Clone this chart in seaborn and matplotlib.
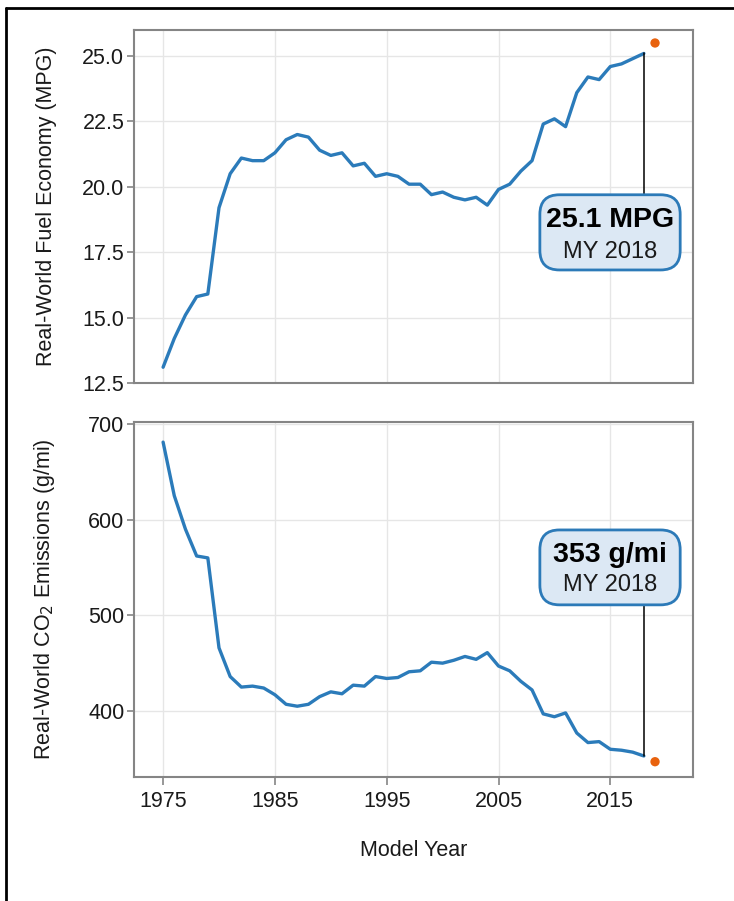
import numpy as np
import pandas as pd
import matplotlib
matplotlib.use("Agg")
import matplotlib.pyplot as plt
import seaborn as sns
from matplotlib.patches import FancyBboxPatch
from matplotlib.lines import Line2D

# --- data -------------------------------------------------------------
years = list(range(1975, 2019))
mpg = [13.1, 14.2, 15.1, 15.8, 15.9, 19.2, 20.5, 21.1, 21.0, 21.0,
       21.3, 21.8, 22.0, 21.9, 21.4, 21.2, 21.3, 20.8, 20.9, 20.4,
       20.5, 20.4, 20.1, 20.1, 19.7, 19.8, 19.6, 19.5, 19.6, 19.3,
       19.9, 20.1, 20.6, 21.0, 22.4, 22.6, 22.3, 23.6, 24.2, 24.1,
       24.6, 24.7, 24.9, 25.1]
co2 = [681, 625, 590, 562, 560, 466, 436, 425, 426, 424,
       417, 407, 405, 407, 415, 420, 418, 427, 426, 436,
       434, 435, 441, 442, 451, 450, 453, 457, 454, 461,
       447, 442, 431, 422, 397, 394, 398, 377, 367, 368,
       360, 359, 357, 353]
prelim_year = [2019]
prelim_mpg = [25.5]
prelim_co2 = [347]

df = pd.DataFrame({"year": years, "mpg": mpg, "co2": co2})
df_pre = pd.DataFrame({"year": prelim_year, "mpg": prelim_mpg, "co2": prelim_co2})

line_col = "#2b7bba"
dot_col = "#e8620e"
spine_col = "#858585"

sns.set_theme(style="whitegrid")
plt.rcParams["font.family"] = ["Liberation Sans", "DejaVu Sans"]
plt.rcParams["grid.color"] = "#e6e6e6"
plt.rcParams["grid.linewidth"] = 1.0

fig = plt.figure(figsize=(7.34, 9.01), dpi=100)
ax1 = fig.add_axes([0.1826, 0.575, 0.7616, 0.3918])
ax2 = fig.add_axes([0.1826, 0.1376, 0.7616, 0.394])

# figure frame (left and top edges only visible in the crop)
fig.add_artist(Line2D([6 / 734, 6 / 734], [0, 1 - 8 / 901], transform=fig.transFigure,
                      color="black", lw=2))
fig.add_artist(Line2D([6 / 734, 1], [1 - 8 / 901, 1 - 8 / 901], transform=fig.transFigure,
                      color="black", lw=2))

for ax, col in [(ax1, "mpg"), (ax2, "co2")]:
    sns.lineplot(data=df, x="year", y=col, ax=ax, color=line_col, lw=2.4)
    sns.scatterplot(data=df_pre, x="year", y=col, ax=ax, color=dot_col,
                    s=45, edgecolor="none", zorder=5)
    ax.set_xlim(1972.4, 2022.4)
    ax.set_xticks([1975, 1985, 1995, 2005, 2015])
    for s in ax.spines.values():
        s.set_color(spine_col)
        s.set_linewidth(1.5)
        s.set_visible(True)
    ax.tick_params(axis="y", left=True, length=5, width=1.2, color=spine_col,
                   labelsize=15.5, labelcolor="#1a1a1a", pad=2)
    ax.tick_params(axis="x", bottom=True, length=6, width=1.2, color=spine_col,
                   labelsize=15.5, labelcolor="#1a1a1a", pad=4)
    ax.set_xlabel("")

# top panel
ax1.set_ylim(12.5, 26.0)
ax1.set_yticks([12.5, 15.0, 17.5, 20.0, 22.5, 25.0])
ax1.set_yticklabels(["12.5", "15.0", "17.5", "20.0", "22.5", "25.0"])
ax1.tick_params(axis="x", bottom=False, labelbottom=False)
ax1.set_ylabel("Real-World Fuel Economy (MPG)", fontsize=15.5, color="#1a1a1a")
ax1.yaxis.set_label_coords(-0.137, 0.5)
ax1.plot([years[-1], years[-1]], [mpg[-1], 19.68], color="black", lw=1.1, zorder=3)

# bottom panel
ax2.set_ylim(331, 702)
ax2.set_yticks([400, 500, 600, 700])
ax2.set_ylabel("Real-World CO$_2$ Emissions (g/mi)", fontsize=15.5, color="#1a1a1a")
ax2.yaxis.set_label_coords(-0.137, 0.5)
ax2.set_xlabel("Model Year", fontsize=15.5, color="#1a1a1a", labelpad=20)
ax2.plot([years[-1], years[-1]], [co2[-1], 510.8], color="black", lw=1.1, zorder=3)

# callout boxes
asp = 559 / 353


def callout(ax, y0, y1, big, small, yb, ys):
    box = FancyBboxPatch((0.726, y0), 0.977 - 0.726, y1 - y0,
                         boxstyle="round,pad=0,rounding_size=0.035",
                         mutation_aspect=asp, transform=ax.transAxes,
                         facecolor="#dce8f4", edgecolor="#2c7ab8", lw=2.0, zorder=6)
    ax.add_patch(box)
    ax.text(0.851, yb, big, transform=ax.transAxes, ha="center", va="center",
            fontsize=20.5, fontweight="bold", color="black", zorder=7)
    ax.text(0.851, ys, small, transform=ax.transAxes, ha="center", va="center",
            fontsize=17, color="#1a1a1a", zorder=7)


callout(ax1, 0.32, 0.533, "25.1 MPG", "MY 2018", 0.462, 0.371)
callout(ax2, 0.485, 0.696, "353 g/mi", "MY 2018", 0.625, 0.541)

fig.savefig("out.png", dpi=100)
